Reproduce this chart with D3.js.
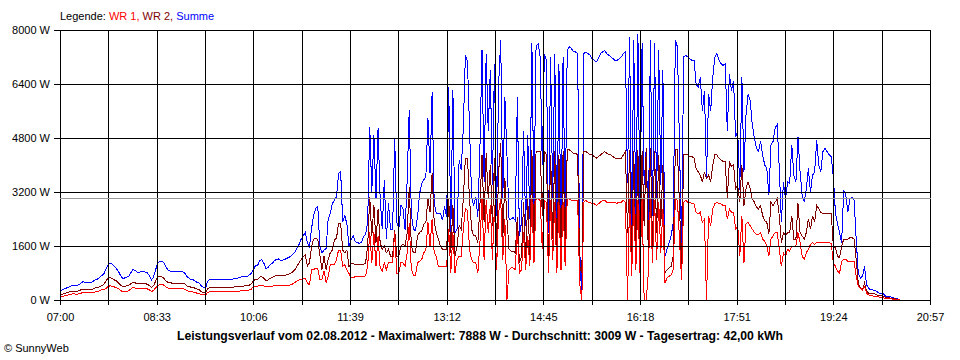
<!DOCTYPE html>
<html><head><meta charset="utf-8">
<script src="https://cdn.jsdelivr.net/npm/d3@7"></script>
<style>
html,body{margin:0;padding:0;background:#fff;}
svg{display:block;font-family:"Liberation Sans",Arial,sans-serif;}
</style></head><body>
<svg id="chart" width="960" height="360"></svg>
<script>
// ---- data ----
const startMinute = 420;   // 07:00
const stepMinutes = 2;     // one reading every 2 minutes
const yTickValues = [0, 1600, 3200, 4800, 6400, 8000];
const xTickLabels = ["07:00","08:33","10:06","11:39","13:12","14:45","16:18","17:51","19:24","20:57"];
const averageW = 3009;
const legendLabels = ["WR 1", "WR 2", "Summe"];
const titleText = "Leistungsverlauf vom 02.08.2012 - Maximalwert: 7888 W - Durchschnitt: 3009 W - Tagesertrag: 42,00 kWh";

const summe = [
280,300,330,350,380,410,440,440,430,450,
500,540,530,520,510,520,560,600,620,660,
720,760,900,1030,1100,1070,1000,940,860,740,
650,650,680,700,800,900,880,830,820,840,
840,830,810,720,600,680,900,1080,1140,1150,
1100,980,880,860,840,830,830,840,830,840,
800,700,650,600,600,560,520,500,420,380,
350,560,600,600,600,600,600,600,600,600,
600,610,610,620,640,640,660,680,690,700,
700,740,790,900,1010,1010,1180,1190,1100,940,
960,1040,1080,1150,1200,1220,1180,1180,1200,1230,
1260,1300,1350,1420,1530,1650,1800,1900,2000,1700,
1580,2120,2500,2720,2780,1600,1400,1480,1520,2400,
2570,2860,2960,3060,3750,3800,2320,2500,2250,1600,
1780,1900,1730,1700,1680,1700,1880,1950,2300,5140,
3200,4900,3000,5100,3000,2100,3560,1800,2860,2100,
2080,4790,2300,2100,2800,2700,2080,3560,5630,2570,
2100,2050,2470,3160,3460,3560,3660,5380,3750,6170,
2860,2570,2570,2570,2370,2770,2470,6320,2000,6220,
2000,2100,4150,3850,5100,7260,7060,5100,3060,2800,
3060,2470,4500,7400,3500,7300,5000,6800,3400,7000,
2500,6400,7700,3000,6000,4300,2400,2400,2450,2350,
6000,1900,2300,5000,2200,4900,2400,7600,2800,7500,
7600,7200,4000,7300,7100,2000,7200,3000,7300,1800,
7000,1900,7200,2500,7400,7500,7450,7350,7350,7300,
1500,0,7300,7350,7300,7250,7150,7100,7060,7150,
7300,7350,7400,7300,7250,7200,7150,7100,7100,7150,
7200,7300,7350,3460,7800,1900,7700,2200,7888,2500,
7600,3400,4500,1900,7700,2500,7600,3000,7400,3400,
6800,1300,1500,1700,1900,2300,7700,7500,4600,1600,
7200,7250,7200,7150,7100,7100,6400,6300,6600,5600,
6200,3650,6100,5600,6600,7200,7300,7100,7000,6950,
7000,5000,6700,6200,6500,4840,5000,3260,6620,3800,
5500,6100,5900,5200,4800,4500,4400,4700,4300,4000,
3900,3100,4600,4700,5100,5200,3900,2300,3500,3000,
3500,3450,4600,3700,3500,4840,3800,3100,2900,3300,
3900,3200,3700,3800,4740,4000,3800,4400,4500,4400,
4300,4250,3650,2600,2250,2000,1700,3260,3100,2600,
3000,3060,2960,1800,800,650,700,1000,450,350,
300,300,280,250,200,200,180,120,100,100,
80,60,40,30,20
];

const wr2 = [
150,170,190,210,230,250,260,260,260,270,
300,320,320,310,300,310,330,360,370,390,
420,450,560,640,670,640,600,570,520,450,
400,400,420,430,480,520,510,490,480,490,
490,480,470,430,380,420,560,680,700,690,
640,560,520,510,500,500,500,500,490,490,
480,420,400,380,370,350,320,300,250,220,
200,340,360,360,360,360,360,360,360,370,
370,370,370,380,390,390,400,410,410,420,
420,440,480,570,610,610,680,690,650,580,
590,640,660,700,730,740,720,720,730,750,
760,790,840,900,1000,1100,1200,1280,1330,1000,
1100,1580,1800,1830,1800,1330,900,1300,890,1200,
1400,1480,1780,1830,2270,2270,1480,1400,1480,990,
1090,1090,1040,1040,1040,1040,1060,1100,1600,3060,
1900,2800,1700,2700,1700,1500,1600,1400,1500,1300,
1300,2080,1300,1300,1600,1650,1600,2000,3360,1600,
1400,1400,1900,2000,2050,2250,2300,3000,2600,3750,
2300,2000,1800,1600,1500,1500,1500,3000,1400,2800,
1300,1600,2200,2100,3000,4200,4200,3000,2100,1900,
1900,1700,2800,4300,2300,4350,3000,4000,2200,4200,
1600,3800,4650,1800,3600,2400,1500,1450,1450,1400,
2470,1100,1300,2900,1200,3000,1300,4450,1500,4400,
4400,4400,2500,4400,4300,1200,4300,1800,4400,1100,
4300,1300,4400,1600,4450,4450,4400,4350,4350,4300,
1000,800,4400,4400,4350,4300,4300,4250,4200,4250,
4300,4350,4400,4350,4300,4300,4250,4200,4200,4200,
4200,4300,4400,2000,4450,1200,4400,1300,4450,1100,
4400,2200,4500,1300,4500,1600,4400,2000,4300,2200,
4000,800,900,950,1000,1300,4450,4450,2800,1000,
4300,4300,4300,4250,4250,4200,3900,3800,3700,3500,
3800,3600,3700,3500,4000,4300,4300,4200,4150,4100,
4100,3000,4100,3950,4000,3300,3400,2900,4000,2800,
3300,3500,3300,3000,2900,2750,2700,2800,2500,2350,
2300,1950,2900,2800,2900,3000,2500,1700,2000,1900,
2000,2000,2500,1800,1800,2860,2000,1900,1800,2000,
2400,2100,2500,2300,2800,2700,2600,2560,2560,2560,
2550,2560,1600,1550,1300,1250,1600,1800,1800,1800,
1850,1850,1800,1200,500,350,300,500,260,200,
200,200,180,150,130,130,120,80,70,60,
50,40,30,20,10
];

const wr1 = [
100,110,120,130,150,160,180,180,170,180,
200,220,210,210,210,210,230,240,250,270,
300,310,340,390,420,410,390,370,340,290,
250,250,260,270,320,370,360,340,340,350,
350,340,330,300,250,280,360,420,450,460,
440,380,350,340,340,330,330,340,340,340,
320,280,260,240,240,220,200,190,160,150,
150,220,240,240,240,240,240,240,240,240,
240,240,250,250,250,260,260,270,280,280,
280,300,320,400,410,410,420,430,420,400,
400,410,410,420,420,420,420,420,420,430,
430,450,480,520,560,590,610,640,650,500,
450,890,900,940,940,600,620,870,520,700,
1040,1040,1040,1200,1480,1480,1000,1040,900,790,
660,660,690,690,690,690,700,720,1000,2000,
1100,2000,1000,1900,950,850,1100,900,1100,1100,
1100,2000,800,800,1100,1100,1000,1400,2270,900,
740,740,1100,1150,1200,1400,1500,2300,1600,2400,
1400,1300,1000,1000,1000,1000,1000,2100,800,2000,
800,1200,1300,1300,2100,2700,2650,1500,1200,1100,
1100,800,1700,3000,1200,2950,2000,2800,1200,2800,
900,2600,3000,1200,2400,0,900,950,950,900,
2075,800,900,2000,900,1900,1000,3000,1100,3000,
3000,2950,1500,2950,2900,800,2950,1200,2900,800,
2900,900,2900,1000,3000,3000,2950,2950,2950,2950,
500,0,2900,2950,2900,2900,2850,2850,2800,2850,
2900,2950,2950,2900,2900,2900,2900,2880,2870,2900,
2900,2950,2900,0,3000,700,3000,900,2950,800,
3000,0,0,800,3000,1100,2950,1200,2900,1400,
2700,500,650,700,750,900,3000,2950,1800,600,
2900,2950,2900,2900,2850,2850,2600,2550,2600,2300,
2400,0,2500,2200,2700,2850,2900,2850,2850,2800,
2800,2400,2700,2600,2600,2100,2200,1300,2500,1100,
2250,2300,2200,2100,2000,1950,1950,2000,1800,1750,
1600,1300,1800,1900,2000,2000,1500,1000,1400,1300,
1500,1450,1600,1600,1600,2000,1700,1300,1200,1400,
1500,1650,1700,1650,1700,1700,1700,1720,1700,1700,
1700,1680,1100,1000,850,800,1150,1200,1200,1150,
1150,1150,1150,700,400,350,300,400,200,150,
120,120,110,100,90,80,70,50,40,40,
30,20,10,10,10
];

// ---- chart ----
const svg = d3.select("#chart");
svg.append("rect").attr("width", 960).attr("height", 360).attr("fill", "#fff");

const plotLeft = 60, plotRight = 930, plotTop = 30, plotBottom = 300;
const x = d3.scaleLinear().domain([420, 1257]).range([plotLeft, plotRight]);
const y = d3.scaleLinear().domain([0, 8000]).range([plotBottom, plotTop]);

const gridTicks = d3.range(19).map(k => 420 + 46.5 * k);

const line = d3.line()
  .x((d, i) => x(startMinute + i * stepMinutes))
  .y(d => y(d));

const dataG = svg.append("g");
[[summe, "#0000ff"], [wr2, "#800000"], [wr1, "#ff0000"]].forEach(([vals, col]) => {
  dataG.append("path")
    .attr("d", line(vals))
    .attr("fill", "none")
    .attr("stroke", col)
    .attr("stroke-width", 1)
    .attr("shape-rendering", "crispEdges");
});

// grid on top of data
const gridG = svg.append("g").attr("shape-rendering", "crispEdges");
const xEnd = Math.round(x(1257)) + 1;
gridG.selectAll("line.v").data(gridTicks).join("line")
  .attr("class", "v")
  .attr("x1", d => Math.round(x(d)) + 0.5).attr("x2", d => Math.round(x(d)) + 0.5)
  .attr("y1", plotTop).attr("y2", plotBottom)
  .attr("stroke", "#000");
gridG.selectAll("line.h").data(yTickValues).join("line")
  .attr("class", "h")
  .attr("x1", plotLeft).attr("x2", xEnd)
  .attr("y1", d => Math.round(y(d)) + 0.5).attr("y2", d => Math.round(y(d)) + 0.5)
  .attr("stroke", "#000");
gridG.append("line")
  .attr("x1", plotLeft).attr("x2", xEnd)
  .attr("y1", Math.round(y(averageW)) + 0.5).attr("y2", Math.round(y(averageW)) + 0.5)
  .attr("stroke", "#999");

// axes
const yAxis = d3.axisLeft(y).tickValues(yTickValues).tickFormat(d => d + " W")
  .tickSize(6).tickPadding(4);
const yg = svg.append("g").attr("transform", `translate(${plotLeft},0)`).call(yAxis);
yg.select(".domain").remove();
yg.selectAll(".tick line").attr("stroke", "#000").attr("shape-rendering", "crispEdges");
yg.selectAll(".tick text").attr("font-size", 11).attr("fill", "#000")
  .attr("font-family", '"Liberation Sans",Arial,sans-serif').attr("dy", "0.36em");

const xAxis = d3.axisBottom(x).tickValues(gridTicks)
  .tickFormat((d, i) => (i % 2 === 0 ? xTickLabels[i / 2] : ""))
  .tickSize(5).tickPadding(8);
const xg = svg.append("g").attr("transform", `translate(0,${plotBottom})`).call(xAxis);
xg.select(".domain").remove();
xg.selectAll(".tick line").attr("stroke", "#000").attr("shape-rendering", "crispEdges");
xg.selectAll(".tick text").attr("font-size", 11).attr("fill", "#000")
  .attr("font-family", '"Liberation Sans",Arial,sans-serif');

// legend
const legendColors = ["#ff0000", "#800000", "#0000ff"];
const leg = svg.append("text").attr("x", 60).attr("y", 20).attr("font-size", 11);
leg.append("tspan").attr("fill", "#000").text("Legende: ");
legendLabels.forEach((l, i) => {
  leg.append("tspan").attr("fill", legendColors[i])
    .text(l + (i < legendLabels.length - 1 ? ", " : ""));
});

// title
svg.append("text").attr("x", 480).attr("y", 340).attr("text-anchor", "middle")
  .attr("font-size", 12).attr("font-weight", "bold").attr("fill", "#000")
  .attr("textLength", 606).attr("lengthAdjust", "spacingAndGlyphs")
  .text(titleText);

svg.append("text").attr("x", 4).attr("y", 352).attr("font-size", 11).attr("fill", "#000")
  .text("© SunnyWeb");
</script>
</body></html>
